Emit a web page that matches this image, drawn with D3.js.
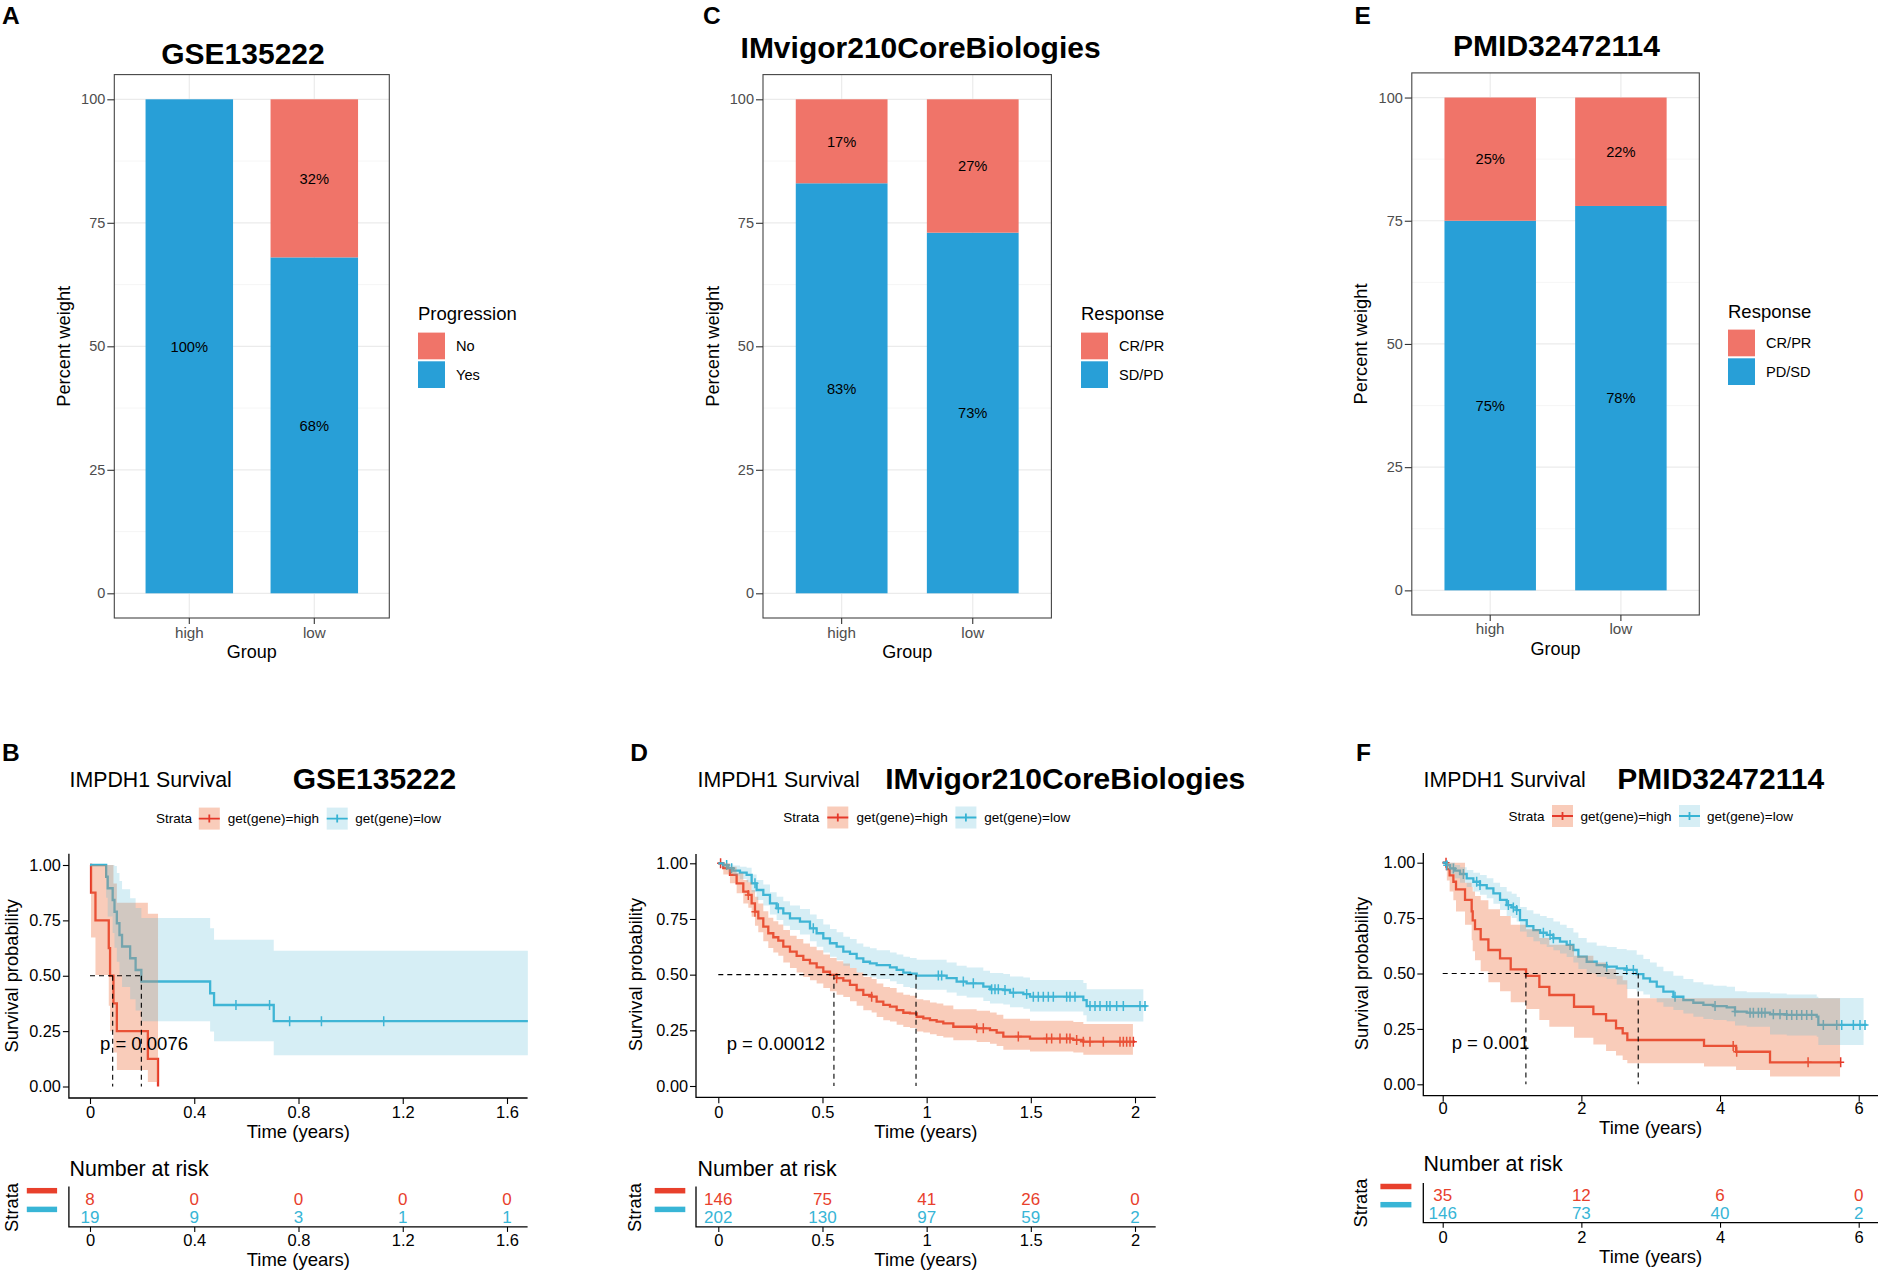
<!DOCTYPE html>
<html>
<head>
<meta charset="utf-8">
<script src="https://cdn.jsdelivr.net/npm/d3@7"></script>
<style>
  body { margin: 0; background: #fff; }
  svg { display: block; }
  text { font-family: "Liberation Sans", Arial, sans-serif; }
</style>
</head>
<body>
<div class="vis-container"></div>
<script>
const FONT = '"Liberation Sans", Arial, sans-serif';

// ---- bar panels (percent of group) ----
const groups = ['high', 'low'];
const barTicks = [0, 25, 50, 75, 100];
const gseNo = [0, 32];
const gseYes = [100, 68];
const imvCRPR = [17, 27];
const imvSDPD = [83, 73];
const pmidCRPR = [25, 22];
const pmidPDSD = [75, 78];

// ---- survival curves: event times, survival, CI low, CI high ----
const kmYTicks = [0, 0.25, 0.5, 0.75, 1];

const gseHighT = [0, 0.004, 0.021, 0.072, 0.077, 0.09, 0.103, 0.222, 0.261];
const gseHighS = [1, 0.875, 0.75, 0.625, 0.5, 0.375, 0.25, 0.125, 0];
const gseHighLo = [1, 0.673, 0.503, 0.365, 0.25, 0.153, 0.075, 0.02, 0.02];
const gseHighHi = [1, 1, 1, 1, 1, 0.917, 0.83, 0.78, 0.78];
const gseHighCensor = [];
const gseLowT = [0, 0.062, 0.068, 0.087, 0.094, 0.103, 0.113, 0.123, 0.154, 0.175, 0.197, 0.461, 0.476, 0.705];
const gseLowS = [1, 0.947, 0.895, 0.842, 0.789, 0.737, 0.684, 0.632, 0.579, 0.526, 0.474, 0.421, 0.368, 0.295];
const gseLowLo = [1, 0.852, 0.767, 0.693, 0.626, 0.563, 0.504, 0.449, 0.394, 0.343, 0.295, 0.248, 0.204, 0.141];
const gseLowHi = [1, 1, 1, 1, 0.995, 0.964, 0.928, 0.891, 0.85, 0.806, 0.761, 0.714, 0.663, 0.613];
const gseLowCensor = [0.56, 0.689, 0.766, 0.888, 1.127];
const gseTimeTicks = [0, 0.4, 0.8, 1.2, 1.6];
const gseRiskHigh = [8, 0, 0, 0, 0];
const gseRiskLow = [19, 9, 3, 1, 1];
const gseMedians = [0.087, 0.197];

const imvHighT = [0, 0.024, 0.056, 0.088, 0.12, 0.144, 0.16, 0.176, 0.192, 0.216, 0.24, 0.264, 0.288, 0.312, 0.344, 0.376, 0.408, 0.44, 0.472, 0.504, 0.536, 0.568, 0.6, 0.632, 0.664, 0.696, 0.736, 0.76, 0.792, 0.824, 0.856, 0.888, 0.92, 0.952, 0.984, 1.016, 1.048, 1.08, 1.128, 1.24, 1.304, 1.336, 1.368, 1.496, 1.704, 1.752];
const imvHighS = [1, 0.978, 0.948, 0.91, 0.873, 0.858, 0.82, 0.783, 0.753, 0.716, 0.686, 0.668, 0.653, 0.626, 0.603, 0.584, 0.566, 0.551, 0.533, 0.513, 0.499, 0.484, 0.473, 0.454, 0.431, 0.409, 0.401, 0.379, 0.364, 0.356, 0.341, 0.329, 0.326, 0.311, 0.304, 0.296, 0.289, 0.281, 0.266, 0.259, 0.251, 0.24, 0.222, 0.213, 0.207, 0.199];
const imvHighLo = [1, 0.95, 0.91, 0.865, 0.82, 0.8, 0.76, 0.72, 0.69, 0.65, 0.62, 0.6, 0.585, 0.555, 0.53, 0.51, 0.49, 0.475, 0.46, 0.44, 0.425, 0.41, 0.4, 0.38, 0.36, 0.34, 0.33, 0.31, 0.295, 0.29, 0.275, 0.265, 0.26, 0.245, 0.24, 0.232, 0.225, 0.218, 0.205, 0.198, 0.19, 0.18, 0.163, 0.155, 0.15, 0.14];
const imvHighHi = [1, 1, 0.985, 0.955, 0.925, 0.915, 0.88, 0.85, 0.82, 0.785, 0.755, 0.74, 0.725, 0.7, 0.675, 0.66, 0.64, 0.625, 0.61, 0.59, 0.575, 0.56, 0.55, 0.53, 0.51, 0.49, 0.48, 0.46, 0.445, 0.44, 0.42, 0.41, 0.405, 0.39, 0.385, 0.375, 0.37, 0.362, 0.345, 0.338, 0.33, 0.32, 0.302, 0.293, 0.287, 0.278];
const imvHighCensor = [0.011, 0.144, 0.176, 0.568, 0.736, 1.24, 1.272, 1.44, 1.576, 1.6, 1.64, 1.672, 1.688, 1.72, 1.752, 1.784, 1.848, 1.928, 1.944, 1.96, 1.976, 1.992];
const imvLowT = [0, 0.024, 0.048, 0.072, 0.104, 0.136, 0.16, 0.184, 0.216, 0.248, 0.28, 0.312, 0.344, 0.392, 0.44, 0.472, 0.504, 0.536, 0.568, 0.6, 0.632, 0.664, 0.696, 0.728, 0.76, 0.824, 0.856, 0.888, 0.92, 0.952, 1.096, 1.144, 1.192, 1.272, 1.304, 1.368, 1.4, 1.464, 1.496, 1.752, 1.768];
const imvLowS = [1, 0.992, 0.978, 0.967, 0.958, 0.948, 0.91, 0.88, 0.858, 0.82, 0.798, 0.775, 0.753, 0.738, 0.708, 0.686, 0.663, 0.641, 0.626, 0.603, 0.593, 0.573, 0.558, 0.551, 0.543, 0.533, 0.521, 0.509, 0.505, 0.496, 0.484, 0.469, 0.461, 0.446, 0.434, 0.431, 0.419, 0.413, 0.401, 0.386, 0.359];
const imvLowLo = [1, 0.98, 0.96, 0.945, 0.93, 0.915, 0.87, 0.835, 0.81, 0.77, 0.745, 0.72, 0.7, 0.68, 0.65, 0.625, 0.6, 0.58, 0.565, 0.54, 0.53, 0.51, 0.495, 0.488, 0.48, 0.47, 0.458, 0.445, 0.44, 0.432, 0.42, 0.405, 0.397, 0.382, 0.37, 0.366, 0.354, 0.347, 0.335, 0.318, 0.29];
const imvLowHi = [1, 1, 0.995, 0.99, 0.985, 0.98, 0.95, 0.925, 0.905, 0.87, 0.85, 0.83, 0.81, 0.795, 0.77, 0.75, 0.725, 0.705, 0.69, 0.67, 0.66, 0.64, 0.625, 0.618, 0.61, 0.6, 0.59, 0.58, 0.575, 0.567, 0.555, 0.54, 0.532, 0.518, 0.507, 0.503, 0.492, 0.487, 0.476, 0.462, 0.435];
const imvLowCensor = [0.04, 0.064, 0.176, 0.288, 0.456, 1.056, 1.072, 1.176, 1.224, 1.312, 1.328, 1.344, 1.376, 1.416, 1.48, 1.512, 1.536, 1.56, 1.584, 1.608, 1.672, 1.688, 1.712, 1.784, 1.808, 1.832, 1.864, 1.88, 1.912, 1.944, 2.024, 2.048];
const imvTimeTicks = [0, 0.5, 1, 1.5, 2];
const imvRiskHigh = [146, 75, 41, 26, 0];
const imvRiskLow = [202, 130, 97, 59, 2];
const imvMedians = [0.555, 0.949];

const pmidHighT = [0, 0.06, 0.1, 0.154, 0.192, 0.322, 0.418, 0.433, 0.466, 0.548, 0.659, 0.827, 0.981, 1.202, 1.394, 1.538, 1.894, 2.173, 2.356, 2.5, 2.596, 2.663, 3.769, 4.231, 4.721];
const pmidHighS = [1, 0.971, 0.943, 0.914, 0.88, 0.832, 0.78, 0.74, 0.7, 0.654, 0.606, 0.568, 0.519, 0.489, 0.44, 0.403, 0.35, 0.317, 0.287, 0.253, 0.23, 0.2, 0.173, 0.147, 0.099];
const pmidHighLo = [1, 0.92, 0.87, 0.83, 0.78, 0.72, 0.65, 0.6, 0.56, 0.51, 0.46, 0.42, 0.37, 0.34, 0.29, 0.26, 0.21, 0.18, 0.15, 0.13, 0.11, 0.095, 0.08, 0.065, 0.035];
const pmidHighHi = [1, 1, 1, 1, 1, 0.91, 0.89, 0.87, 0.85, 0.83, 0.79, 0.76, 0.72, 0.7, 0.66, 0.63, 0.58, 0.55, 0.52, 0.49, 0.47, 0.388, 0.388, 0.388, 0.388];
const pmidHighCensor = [0.048, 4.19, 4.24, 5.27, 5.74];
const pmidLowT = [0, 0.058, 0.106, 0.178, 0.25, 0.346, 0.442, 0.538, 0.635, 0.731, 0.827, 0.923, 0.995, 1.067, 1.115, 1.212, 1.308, 1.404, 1.5, 1.596, 1.692, 1.788, 1.885, 1.957, 2.077, 2.221, 2.365, 2.51, 2.654, 2.798, 2.894, 2.99, 3.087, 3.183, 3.327, 3.471, 3.615, 3.76, 3.904, 4.096, 4.216, 4.385, 4.721, 4.962, 5.394, 5.418];
const pmidLowS = [1, 0.989, 0.974, 0.964, 0.949, 0.929, 0.914, 0.899, 0.884, 0.862, 0.832, 0.809, 0.798, 0.786, 0.741, 0.714, 0.696, 0.684, 0.674, 0.659, 0.644, 0.629, 0.606, 0.576, 0.553, 0.538, 0.531, 0.523, 0.516, 0.497, 0.478, 0.463, 0.441, 0.418, 0.395, 0.38, 0.368, 0.358, 0.353, 0.347, 0.328, 0.323, 0.316, 0.313, 0.305, 0.268];
const pmidLowLo = [1, 0.97, 0.95, 0.93, 0.91, 0.89, 0.87, 0.855, 0.84, 0.815, 0.786, 0.76, 0.75, 0.735, 0.69, 0.665, 0.645, 0.632, 0.62, 0.605, 0.59, 0.575, 0.55, 0.52, 0.5, 0.485, 0.475, 0.45, 0.43, 0.42, 0.405, 0.39, 0.37, 0.35, 0.335, 0.32, 0.305, 0.295, 0.29, 0.285, 0.265, 0.26, 0.225, 0.22, 0.215, 0.177];
const pmidLowHi = [1, 1, 1, 0.99, 0.98, 0.967, 0.955, 0.945, 0.93, 0.91, 0.89, 0.87, 0.86, 0.845, 0.8, 0.785, 0.77, 0.76, 0.75, 0.735, 0.72, 0.705, 0.685, 0.66, 0.64, 0.625, 0.62, 0.61, 0.605, 0.585, 0.565, 0.55, 0.53, 0.51, 0.49, 0.475, 0.46, 0.45, 0.445, 0.44, 0.42, 0.415, 0.41, 0.405, 0.395, 0.39];
const pmidLowCensor = [0.058, 0.154, 0.298, 0.49, 0.538, 0.947, 1.019, 1.067, 1.452, 1.548, 1.596, 1.837, 2.365, 2.654, 2.75, 3.351, 3.928, 4.216, 4.433, 4.481, 4.553, 4.601, 4.649, 4.769, 4.865, 4.962, 5.034, 5.106, 5.178, 5.25, 5.322, 5.49, 5.683, 5.755, 5.923, 6.019, 6.091];
const pmidTimeTicks = [0, 2, 4, 6];
const pmidRiskHigh = [35, 12, 6, 0];
const pmidRiskLow = [146, 73, 40, 2];
const pmidMedians = [1.2, 2.82];

const RED_BAR = '#F07469';
const BLUE_BAR = '#289FD7';
const RED = '#E5392A';
const BLUE = '#36B3D4';
const RED_TXT = '#E8402C';
const BLUE_TXT = '#38B5D6';
const RED_FILL = '#EE7A4A';
const BLUE_FILL = '#5BBAD9';

const svg = d3.select('.vis-container').append('svg')
  .attr('width', 1879)
  .attr('height', 1272);
svg.append('rect').attr('width', 1879).attr('height', 1272).attr('fill', '#fff');

function txt(g, x, y, s, size, opts = {}) {
  const t = g.append('text')
    .attr('x', x)
    .attr('y', y)
    .attr('font-size', size)
    .attr('fill', opts.fill || '#000')
    .text(s);
  if (opts.bold) t.attr('font-weight', 'bold');
  if (opts.anchor) t.attr('text-anchor', opts.anchor);
  if (opts.rotate) t.attr('transform', `rotate(-90, ${x}, ${y})`);
  return t;
}

function styleAxis(a, size, color) {
  a.attr('font-family', FONT).attr('font-size', size);
  a.select('.domain').remove();
  a.selectAll('line').attr('stroke', color.line).attr('stroke-width', 1.1);
  a.selectAll('text').attr('fill', color.text);
}

// ---------- stacked percent bars ----------
function buildBarPanel(p, topVals, bottomVals, legendLabels) {
  const g = svg.append('g');
  const x = d3.scaleBand().domain(groups).range([p.x0, p.x1]).paddingInner(0.3).paddingOuter(0.25);
  const y = d3.scaleLinear().domain([-5, 105]).range([p.y1, p.y0]);

  g.selectAll('.minor').data([12.5, 37.5, 62.5, 87.5])
    .enter().append('line')
      .attr('x1', p.x0).attr('x2', p.x1)
      .attr('y1', d => y(d)).attr('y2', d => y(d))
      .attr('stroke', '#F4F4F4').attr('stroke-width', 0.8);
  g.selectAll('.major').data(barTicks)
    .enter().append('line')
      .attr('x1', p.x0).attr('x2', p.x1)
      .attr('y1', d => y(d)).attr('y2', d => y(d))
      .attr('stroke', '#EBEBEB').attr('stroke-width', 1.2);
  g.selectAll('.vgrid').data(groups)
    .enter().append('line')
      .attr('x1', d => x(d) + x.bandwidth() / 2).attr('x2', d => x(d) + x.bandwidth() / 2)
      .attr('y1', p.y0).attr('y2', p.y1)
      .attr('stroke', '#EBEBEB').attr('stroke-width', 1.2);

  const rows = groups.map((d, i) => ({group: d, bottom: bottomVals[i], top: topVals[i]}));
  const series = d3.stack().keys(['bottom', 'top'])(rows);
  const colors = {bottom: BLUE_BAR, top: RED_BAR};
  series.forEach(s => {
    g.selectAll(null).data(s)
      .enter().append('rect')
        .attr('x', d => x(d.data.group))
        .attr('width', x.bandwidth())
        .attr('y', d => y(d[1]))
        .attr('height', d => y(d[0]) - y(d[1]))
        .attr('fill', colors[s.key]);
  });
  series.forEach(s => {
    g.selectAll(null).data(s.filter(d => d[1] - d[0] > 0))
      .enter().append('text')
        .attr('x', d => x(d.data.group) + x.bandwidth() / 2)
        .attr('y', d => y((d[0] + d[1]) / 2))
        .attr('dy', '0.36em')
        .attr('text-anchor', 'middle')
        .attr('font-size', 14.7)
        .text(d => (d[1] - d[0]) + '%');
  });

  g.append('rect')
    .attr('x', p.x0).attr('y', p.y0)
    .attr('width', p.x1 - p.x0).attr('height', p.y1 - p.y0)
    .attr('fill', 'none').attr('stroke', '#444').attr('stroke-width', 1.1);

  const ya = g.append('g').attr('transform', `translate(${p.x0},0)`)
    .call(d3.axisLeft(y).tickValues(barTicks).tickSize(7).tickPadding(2));
  styleAxis(ya, 14.5, {line: '#333', text: '#4D4D4D'});
  const xa = g.append('g').attr('transform', `translate(0,${p.y1})`)
    .call(d3.axisBottom(x).tickSize(6));
  styleAxis(xa, 15.2, {line: '#333', text: '#4D4D4D'});
  xa.selectAll('text').attr('y', p.tickBase - p.y1).attr('dy', 0);

  txt(g, (p.x0 + p.x1) / 2, p.groupBase, 'Group', 18, {anchor: 'middle'});
  txt(g, p.ylabX, (p.y0 + p.y1) / 2, 'Percent weight', 18.3, {anchor: 'middle', rotate: true});
  txt(g, p.titleX, p.titleBase, p.title, 30, {anchor: 'middle', bold: true});
  txt(g, p.letterX, 24, p.letter, 24.5, {bold: true});

  // legend
  txt(g, p.legX, p.legTitleBase, p.legTitle, 18.5);
  const keyColors = [RED_BAR, BLUE_BAR];
  legendLabels.forEach((lab, i) => {
    const ky = p.keyY + i * 28.7;
    g.append('rect')
      .attr('x', p.legX).attr('y', ky)
      .attr('width', 27).attr('height', 26.7)
      .attr('fill', keyColors[i]);
    txt(g, p.legX + 38, ky + 13.4, lab, 14.6).attr('dy', '0.36em');
  });
}

// ---------- Kaplan-Meier panels ----------
function buildKmPanel(p, curves, timeTicks, risks, medians) {
  const g = svg.append('g');
  const x = d3.scaleLinear().domain([0, p.tMax]).range([p.t0px, p.tMaxPx]);
  const y = d3.scaleLinear().domain([0, 1]).range([p.y0px, p.y1px]);
  const line = d3.line().curve(d3.curveStepAfter).x(d => x(d[0])).y(d => y(d[1]));
  const area = d3.area().curve(d3.curveStepAfter)
    .x(d => x(d[0])).y0(d => y(d[1])).y1(d => y(d[2]));

  const stepAt = (c, t) => c.s[Math.max(0, d3.bisectRight(c.t, t) - 1)];

  // curves and censor marks first, ribbons laid over them
  curves.forEach(c => {
    const pts = c.t.map((t, i) => [t, c.s[i]]);
    pts.push([c.end, c.s[c.s.length - 1]]);
    g.append('path')
      .attr('d', line(pts))
      .attr('fill', 'none')
      .attr('stroke', c.color)
      .attr('stroke-width', 2.3);
    g.selectAll(null).data(c.censor)
      .enter().append('path')
        .attr('d', d => {
          const cx = x(d), cy = y(stepAt(c, d));
          return `M${cx - 3.5},${cy}H${cx + 3.5}M${cx},${cy - 5}V${cy + 5}`;
        })
        .attr('stroke', c.color)
        .attr('stroke-width', 1.5);
  });
  curves.forEach(c => {
    const bp = c.t.map((t, i) => [t, c.lo[i], c.hi[i]]);
    bp.push([c.bandEnd, c.lo[c.lo.length - 1], c.hi[c.hi.length - 1]]);
    g.append('path')
      .attr('d', area(bp))
      .attr('fill', c.fill)
      .attr('fill-opacity', c.alpha);
  });

  // median lines
  const mPath = `M${x(0)},${y(0.5)}H${x(d3.max(medians))}` +
    medians.map(m => `M${x(m)},${y(0.5)}V${y(0)}`).join('');
  g.append('path')
    .attr('d', mPath)
    .attr('fill', 'none')
    .attr('stroke', '#000')
    .attr('stroke-width', 1.1)
    .attr('stroke-dasharray', '5,4');

  // axes
  g.append('path')
    .attr('d', `M${p.axisX},${p.axisTop}V${p.axisY}H${p.axisR}`)
    .attr('fill', 'none').attr('stroke', '#000').attr('stroke-width', 1.3);
  const ya = g.append('g').attr('transform', `translate(${p.axisX},0)`)
    .call(d3.axisLeft(y).tickValues(kmYTicks).tickFormat(d3.format('.2f')).tickSize(6).tickPadding(2));
  styleAxis(ya, 16.3, {line: '#000', text: '#000'});
  const xa = g.append('g').attr('transform', `translate(0,${p.axisY})`)
    .call(d3.axisBottom(x).tickValues(timeTicks).tickFormat(d => String(d)).tickSize(6));
  styleAxis(xa, 16.5, {line: '#000', text: '#000'});
  xa.selectAll('text').attr('y', p.xTickBase - p.axisY).attr('dy', 0);

  const midX = (p.axisX + p.axisR) / 2;
  txt(g, midX, p.timeBase, 'Time (years)', 18.5, {anchor: 'middle'});
  txt(g, p.ylabX, (p.y0px + p.y1px) / 2, 'Survival probability', 18.3, {anchor: 'middle', rotate: true});
  txt(g, p.pX, p.pBase, p.pText, 18.5);

  // titles
  txt(g, p.letterX, 760.5, p.letter, 24.5, {bold: true});
  txt(g, p.survX, 787, 'IMPDH1 Survival', 21.3);
  txt(g, p.dataX, 789, p.dataTitle, 30, {bold: true});

  // strata legend
  const ly = p.legY;
  txt(g, p.strataX, ly, 'Strata', 13.5).attr('dy', '0.35em');
  curves.forEach((c, i) => {
    const kx = p.keyX[i];
    g.append('rect')
      .attr('x', kx).attr('y', ly - 11)
      .attr('width', 21).attr('height', 22)
      .attr('fill', c.fill).attr('fill-opacity', c.alpha);
    g.append('path')
      .attr('d', `M${kx},${ly}H${kx + 21}M${kx + 10.5},${ly - 4}V${ly + 4}`)
      .attr('stroke', c.color).attr('stroke-width', 1.8);
    txt(g, p.labX[i], ly, c.label, 13.5).attr('dy', '0.35em');
  });

  // number at risk table
  txt(g, p.survX, p.nrBase, 'Number at risk', 21.4);
  g.append('path')
    .attr('d', `M${p.axisX},${p.tableTop}V${p.tableY}H${p.axisR}`)
    .attr('fill', 'none').attr('stroke', '#000').attr('stroke-width', 1.3);
  const ta = g.append('g').attr('transform', `translate(0,${p.tableY})`)
    .call(d3.axisBottom(x).tickValues(timeTicks).tickFormat(d => String(d)).tickSize(5));
  styleAxis(ta, 16.5, {line: '#000', text: '#000'});
  ta.selectAll('text').attr('y', p.tableTickBase - p.tableY).attr('dy', 0);
  txt(g, midX, p.tableTimeBase, 'Time (years)', 18.5, {anchor: 'middle'});
  risks.forEach((r, i) => {
    g.selectAll(null).data(r.values)
      .enter().append('text')
        .attr('x', (d, j) => x(timeTicks[j]))
        .attr('y', p.rowBase[i])
        .attr('text-anchor', 'middle')
        .attr('font-size', 17)
        .attr('fill', r.color)
        .text(d => d);
    g.append('line')
      .attr('x1', p.stBarX[0]).attr('x2', p.stBarX[1])
      .attr('y1', p.stBarY[i]).attr('y2', p.stBarY[i])
      .attr('stroke', r.color).attr('stroke-width', 5.5);
  });
  txt(g, p.stTextX, p.stTextY, 'Strata', 18.3, {anchor: 'middle', rotate: true});
}

function curve(t, s, lo, hi, censor, end, bandEnd, high) {
  return {
    t, s, lo, hi, censor, end, bandEnd,
    color: high ? RED : BLUE,
    fill: high ? RED_FILL : BLUE_FILL,
    alpha: high ? 0.38 : 0.25,
    label: high ? 'get(gene)=high' : 'get(gene)=low'
  };
}

buildBarPanel({x0: 114.3, x1: 389.3, y0: 74.6, y1: 618, title: 'GSE135222', titleX: 243, titleBase: 64,
  letter: 'A', letterX: 2, ylabX: 70, legX: 418, legTitle: 'Progression', legTitleBase: 320,
  keyY: 332.6, tickBase: 637.8, groupBase: 658}, gseNo, gseYes, ['No', 'Yes']);
buildBarPanel({x0: 763, x1: 1051.4, y0: 74.6, y1: 618, title: 'IMvigor210CoreBiologies', titleX: 920.6, titleBase: 58,
  letter: 'C', letterX: 703, ylabX: 719, legX: 1081, legTitle: 'Response', legTitleBase: 320,
  keyY: 332.6, tickBase: 637.8, groupBase: 658}, imvCRPR, imvSDPD, ['CR/PR', 'SD/PD']);
buildBarPanel({x0: 1411.8, x1: 1699.3, y0: 72.9, y1: 615, title: 'PMID32472114', titleX: 1556.5, titleBase: 56.4,
  letter: 'E', letterX: 1354.6, ylabX: 1367, legX: 1728, legTitle: 'Response', legTitleBase: 318,
  keyY: 329.6, tickBase: 634, groupBase: 654.6}, pmidCRPR, pmidPDSD, ['CR/PR', 'PD/SD']);

buildKmPanel({letter: 'B', letterX: 2, survX: 69.6, dataX: 292.7, dataTitle: 'GSE135222',
  axisX: 68.9, axisR: 527.6, axisTop: 853.8, axisY: 1098, y1px: 865, y0px: 1086.5,
  tMax: 1.6, t0px: 90, tMaxPx: 507, ylabX: 17.5, legY: 818.6, strataX: 156,
  keyX: [198.8, 326.7], labX: [227.8, 355.2], pX: 100, pBase: 1050, pText: 'p = 0.0076',
  xTickBase: 1117.8, timeBase: 1137.5, nrBase: 1175.8, tableTop: 1186.4, tableY: 1226.9,
  rowBase: [1205, 1223.4], tableTickBase: 1246, tableTimeBase: 1266,
  stBarX: [26.8, 57.1], stBarY: [1190.7, 1209.4], stTextX: 17.5, stTextY: 1207.5},
  [curve(gseHighT, gseHighS, gseHighLo, gseHighHi, gseHighCensor, 0.261, 0.261, true),
   curve(gseLowT, gseLowS, gseLowLo, gseLowHi, gseLowCensor, 1.68, 1.68, false)],
  gseTimeTicks,
  [{values: gseRiskHigh, color: RED_TXT}, {values: gseRiskLow, color: BLUE_TXT}],
  gseMedians);

buildKmPanel({letter: 'D', letterX: 630.2, survX: 697.5, dataX: 885.2, dataTitle: 'IMvigor210CoreBiologies',
  axisX: 696, axisR: 1155.7, axisTop: 854, axisY: 1097.3, y1px: 863.3, y0px: 1086,
  tMax: 2, t0px: 718.3, tMaxPx: 1135, ylabX: 642, legY: 817.5, strataX: 783.2,
  keyX: [827.3, 955.4], labX: [856.6, 984.3], pX: 726.7, pBase: 1050, pText: 'p = 0.00012',
  xTickBase: 1117.8, timeBase: 1137.5, nrBase: 1175.8, tableTop: 1186.4, tableY: 1226.9,
  rowBase: [1205, 1223.4], tableTickBase: 1246, tableTimeBase: 1266,
  stBarX: [654.7, 685.3], stBarY: [1190.7, 1209.4], stTextX: 641, stTextY: 1207.5},
  [curve(imvHighT, imvHighS, imvHighLo, imvHighHi, imvHighCensor, 2.0, 1.99, true),
   curve(imvLowT, imvLowS, imvLowLo, imvLowHi, imvLowCensor, 2.056, 2.04, false)],
  imvTimeTicks,
  [{values: imvRiskHigh, color: RED_TXT}, {values: imvRiskLow, color: BLUE_TXT}],
  imvMedians);

buildKmPanel({letter: 'F', letterX: 1356, survX: 1423.6, dataX: 1617.3, dataTitle: 'PMID32472114',
  axisX: 1423.3, axisR: 1878, axisTop: 853, axisY: 1095.7, y1px: 862.7, y0px: 1084.3,
  tMax: 6, t0px: 1442.7, tMaxPx: 1858.7, ylabX: 1368, legY: 816, strataX: 1508.5,
  keyX: [1552, 1679], labX: [1580.4, 1707], pX: 1451.7, pBase: 1049, pText: 'p = 0.001',
  xTickBase: 1114.2, timeBase: 1134, nrBase: 1170.6, tableTop: 1183, tableY: 1222.7,
  rowBase: [1200.5, 1219], tableTickBase: 1242.7, tableTimeBase: 1263,
  stBarX: [1380.4, 1411.4], stBarY: [1186.5, 1204.7], stTextX: 1367, stTextY: 1203},
  [curve(pmidHighT, pmidHighS, pmidHighLo, pmidHighHi, pmidHighCensor, 5.74, 5.731, true),
   curve(pmidLowT, pmidLowS, pmidLowLo, pmidLowHi, pmidLowCensor, 6.115, 6.07, false)],
  pmidTimeTicks,
  [{values: pmidRiskHigh, color: RED_TXT}, {values: pmidRiskLow, color: BLUE_TXT}],
  pmidMedians);
</script>
</body>
</html>
